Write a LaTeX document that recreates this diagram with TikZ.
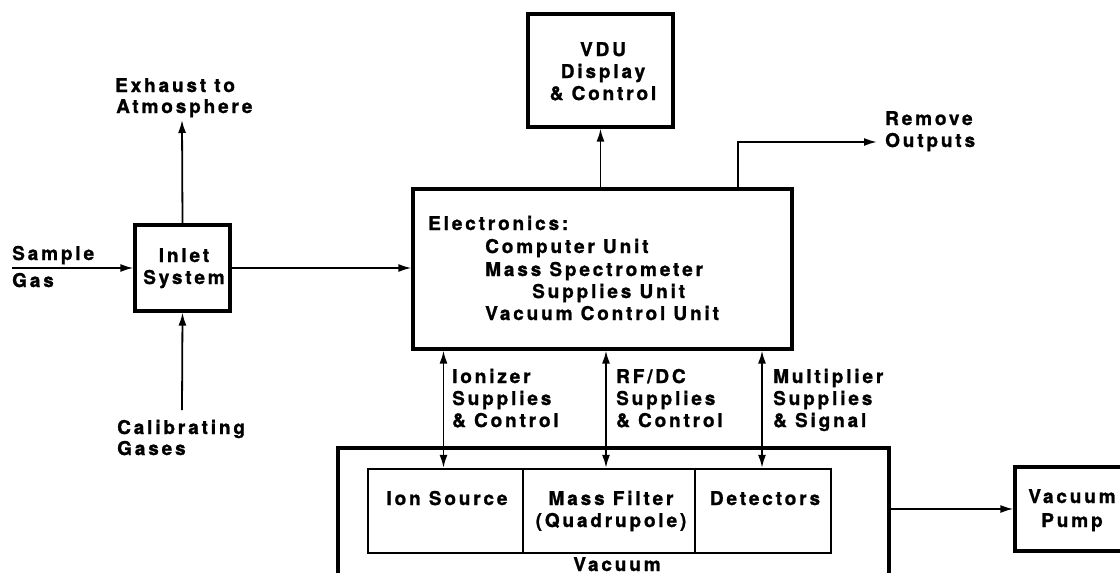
\documentclass[tikz,border=0pt]{standalone}
\usepackage{fontspec}
\setmainfont{TeX Gyre Heros}[LetterSpace=15,BoldFeatures={FakeBold=1.2}]
\usetikzlibrary{arrows.meta,fit}
\begin{document}
\begin{tikzpicture}[x=1pt,y=-1pt,
  every node/.style={font=\bfseries\fontsize{19}{22}\selectfont},
  lbl/.style={inner sep=0pt,anchor=base},
  lblw/.style={inner sep=0pt,anchor=base west},
  box/.style={draw,line width=3.2pt,inner sep=0pt},
  cbox/.style={draw,line width=2.4pt,inner sep=0pt},
  conn/.style={line width=1.8pt,-{Latex[length=13pt,width=8pt]}},
  bconn/.style={line width=1.8pt,{Latex[length=13pt,width=8pt]}-{Latex[length=13pt,width=8pt]}}]
\useasboundingbox (0,0) rectangle (1120,573);

% Inlet system
\node[box,fit={(135,225)(230,311)}] (inlet) {};
\node[lbl] (inlet1) at (184,262) {Inlet};
\node[lbl] (inlet2) at (184,284) {System};

% Exhaust
\coordinate (exh) at (182,120);
\draw[conn] (inlet.north) -- (exh);
\node[lblw] (ex1) at (115,92) {Exhaust to};
\node[lblw] (ex2) at (116,113) {Atmosphere};

% Sample gas
\coordinate (sg) at (12,268);
\draw[conn] (sg) -- (sg -| inlet.west);
\node[lblw] (s1) at (12,260) {Sample};
\node[lblw] (s2) at (12,287) {Gas};

% Calibrating gases
\coordinate (cal) at (182,410);
\draw[conn] (cal) -- (inlet.south);
\node[lblw] (c1) at (117,434) {Calibrating};
\node[lblw] (c2) at (117,455) {Gases};

% Electronics
\node[box,fit={(413,189)(792,349)}] (elec) {};
\draw[conn] (inlet.east) -- (inlet.east -| elec.west);
\node[lblw] (e1) at (428,230) {Electronics:};
\node[lblw] (e2) at (485,253) {Computer Unit};
\node[lblw] (e3) at (485,276) {Mass Spectrometer};
\node[lblw] (e4) at (532,298) {Supplies Unit};
\node[lblw] (e5) at (485,320) {Vacuum Control Unit};

% VDU
\node[box,fit={(528,14)(673,127)}] (vdu) {};
\node[lbl] (v1) at (603,56) {VDU};
\node[lbl] (v2) at (603,78) {Display};
\node[lbl] (v3) at (603,100) {\& Control};
\draw[conn] (vdu.south |- elec.north) -- (vdu.south);

% Remove outputs
\coordinate (rob) at (738,142);
\coordinate (ro) at (877,142);
\draw[conn] (rob |- elec.north) -- (rob) -- (ro);
\node[lblw] (r1) at (885,125) {Remove};
\node[lblw] (r2) at (885,147) {Outputs};

% Vacuum enclosure
\node[box,fit={(338,448)(889,610)}] (vac) {};
\node[cbox,fit={(368,469)(523,553)}] (ion) {};
\node[cbox,fit={(523,469)(695,553)}] (mf) {};
\node[cbox,fit={(695,469)(831,553)}] (det) {};
\node[lbl] (i1) at (447,505) {Ion Source};
\node[lbl] (m1) at (611,505) {Mass Filter};
\node[lbl] (m2) at (611,527) {(Quadrupole)};
\node[lbl] (d1) at (765,505) {Detectors};
\node[lbl] (vac1) at (617,571) {Vacuum};

% Bidirectional links
\draw[bconn] ([xshift=-2pt]ion.north |- elec.south) -- ([xshift=-2pt]ion.north);
\draw[bconn] ([xshift=-3pt]mf.north |- elec.south) -- ([xshift=-3pt]mf.north);
\draw[bconn] ([xshift=-1pt]det.north |- elec.south) -- ([xshift=-1pt]det.north);
\node[lblw] (a1) at (452,383) {Ionizer};
\node[lblw] (a2) at (452,405) {Supplies};
\node[lblw] (a3) at (452,427) {\& Control};
\node[lblw] (b1) at (616,383) {RF/DC};
\node[lblw] (b2) at (616,405) {Supplies};
\node[lblw] (b3) at (616,427) {\& Control};
\node[lblw] (d1a) at (773,383) {Multiplier};
\node[lblw] (d2a) at (773,405) {Supplies};
\node[lblw] (d3a) at (773,427) {\& Signal};

% Vacuum pump
\node[box,fit={(1015,467)(1140,551)}] (pump) {};
\node[lbl] (p1) at (1072,503) {Vacuum};
\node[lbl] (p2) at (1072,527) {Pump};
\draw[conn] (pump.west -| vac.east) -- (pump.west);
\end{tikzpicture}
\end{document}
